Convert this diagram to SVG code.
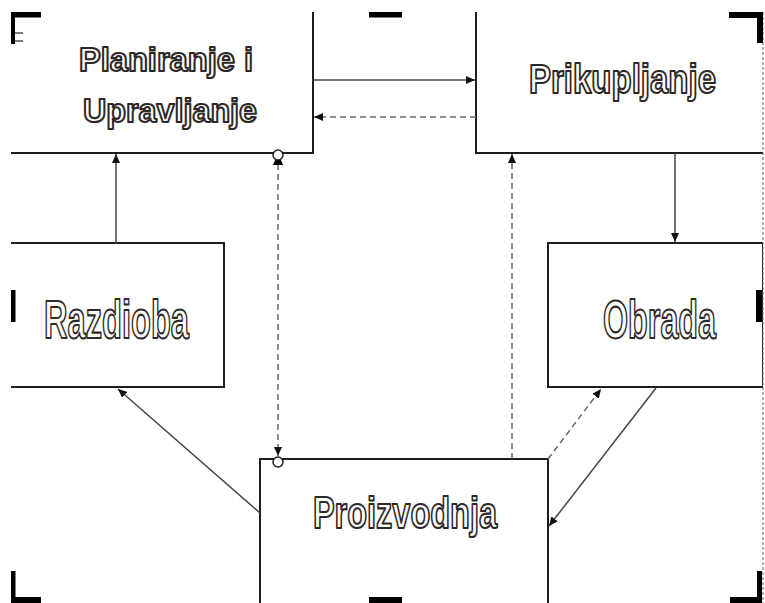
<svg xmlns="http://www.w3.org/2000/svg" width="765" height="603" viewBox="0 0 765 603">
<style>
.box{fill:#fff;stroke:#1e1e1e;stroke-width:2}
.lbl{font-family:"Liberation Sans",Arial,sans-serif;font-weight:bold;fill:#fff;stroke:#2e2826;stroke-width:2.1;stroke-linejoin:round;text-anchor:middle}
.solid{fill:none;stroke:#4a4542;stroke-width:1.5}
.dash{fill:none;stroke:#6a6663;stroke-width:1.5;stroke-dasharray:6 4}
.mark{fill:#000}
.port{fill:#fff;stroke:#1e1e1e;stroke-width:1.5}
</style>
<defs>
<clipPath id="clip"><rect x="11" y="12" width="752" height="591"/></clipPath>
<marker id="arr" markerUnits="userSpaceOnUse" markerWidth="10" markerHeight="8" refX="9" refY="4" orient="auto"><path d="M0,0 L9,4 L0,8 z" fill="#111"/></marker>
</defs>
<rect width="765" height="603" fill="#fff"/>
<g id="planiranje"><rect class="box" x="-10" y="-10" width="323" height="163" clip-path="url(#clip)"/>
<text class="lbl" transform="translate(166,71) scale(0.96,1)" font-size="34">Planiranje i</text>
<text class="lbl" transform="translate(170,122) scale(0.95,1)" font-size="34">Upravljanje</text></g>
<g id="prikupljanje"><rect class="box" x="476" y="-10" width="300" height="163" clip-path="url(#clip)"/>
<text class="lbl" transform="translate(622.5,93) scale(0.805,1)" font-size="41">Prikupljanje</text></g>
<g id="razdioba"><rect class="box" x="-10" y="243" width="234" height="144" clip-path="url(#clip)"/>
<text class="lbl" transform="translate(116.5,338) scale(0.604,1)" font-size="54" stroke-width="2.8">Razdioba</text></g>
<g id="obrada"><rect class="box" x="548" y="243" width="215" height="144" clip-path="url(#clip)"/>
<text class="lbl" transform="translate(659.5,338) scale(0.609,1)" font-size="53" stroke-width="2.8">Obrada</text></g>
<g id="proizvodnja"><rect class="box" x="260" y="459" width="288" height="160" clip-path="url(#clip)"/>
<text class="lbl" transform="translate(405,528) scale(0.722,1)" font-size="45" stroke-width="2.5">Proizvodnja</text></g>
<g id="connectors">
<path class="solid" d="M313,80 L475,80" marker-end="url(#arr)"/>
<path class="dash" d="M476,117 L314,117" marker-end="url(#arr)"/>
<path class="solid" d="M116,243 L116,154" marker-end="url(#arr)"/>
<path class="dash" d="M278,164 L278,456" marker-end="url(#arr)"/>
<polygon class="mark" points="273,165 283,165 281,160 275,160"/>
<circle class="port" cx="278" cy="155" r="5"/>
<circle class="port" cx="278" cy="462" r="5"/>
<path class="dash" d="M512,459 L512,154" marker-end="url(#arr)"/>
<path class="solid" d="M675,153 L675,242" marker-end="url(#arr)"/>
<path class="solid" d="M656,388 L549,526" marker-end="url(#arr)"/>
<path class="dash" d="M548,459 L601,389" marker-end="url(#arr)"/>
<path class="solid" d="M260,513 L118,389" marker-end="url(#arr)"/>
</g>
<g id="frame">
<line x1="763" y1="12" x2="763" y2="603" stroke="#666" stroke-width="1" stroke-dasharray="3 2"/>
<path class="mark" d="M11,12 H41 V17.5 H15 V44 H11 Z"/>
<line x1="15" y1="33" x2="23" y2="33" stroke="#555" stroke-width="1.5"/>
<line x1="15" y1="41" x2="23" y2="41" stroke="#555" stroke-width="1.5"/>
<rect class="mark" x="369" y="12" width="33" height="5.5"/>
<path class="mark" d="M729,12 H763 V43 H757 V18 H729 Z"/>
<rect class="mark" x="11" y="290" width="4.5" height="32"/>
<rect class="mark" x="756" y="290" width="6" height="32"/>
<path class="mark" d="M11,571 H15.5 V597 H41 V603 H11 Z"/>
<rect class="mark" x="369" y="597" width="33" height="6"/>
<path class="mark" d="M757,571 H762 V603 H730 V597 H757 Z"/>
</g>
</svg>
